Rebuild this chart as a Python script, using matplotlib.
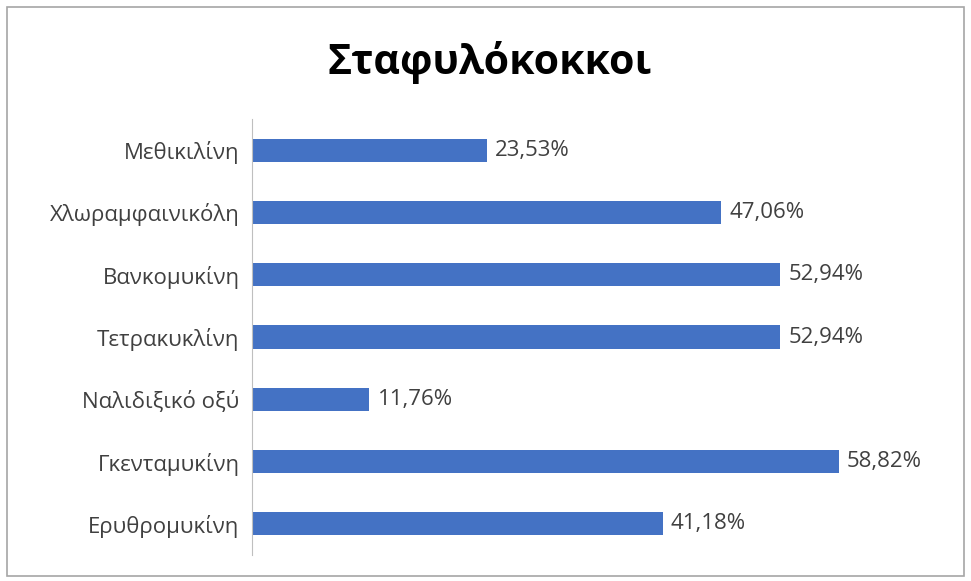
import matplotlib
matplotlib.use("Agg")
import matplotlib.pyplot as plt
from matplotlib.patches import Rectangle

categories = ["Μεθικιλίνη", "Χλωραμφαινικόλη", "Βανκομυκίνη", "Τετρακυκλίνη",
              "Ναλιδιξικό οξύ", "Γκενταμυκίνη", "Ερυθρομυκίνη"]
values = [23.53, 47.06, 52.94, 52.94, 11.76, 58.82, 41.18]
title = "Σταφυλόκοκκοι"

plt.rcParams["font.family"] = ["Open Sans", "DejaVu Sans"]

fig = plt.figure(figsize=(9.71, 5.81), dpi=100)
fig.patches.append(Rectangle((7 / 971, 5 / 581), 957 / 971, 569 / 581,
                             transform=fig.transFigure, fill=False,
                             edgecolor="#a6a6a6", linewidth=1.2))

ax = fig.add_axes([252 / 971, 26 / 581, 698 / 971, 436 / 581])
ypos = list(range(len(categories)))
ax.barh(ypos, values, height=0.37, color="#4472c4")
ax.set_ylim(len(categories) - 0.5, -0.5)
ax.set_xlim(0, 70)
ax.set_yticks(ypos)
ax.set_yticklabels(categories, fontsize=16, color="#404040")
ax.tick_params(axis="y", length=0, pad=9)
ax.set_xticks([])
for s in ["top", "right", "bottom"]:
    ax.spines[s].set_visible(False)
ax.spines["left"].set_color("#bfbfbf")

for y, v in zip(ypos, values):
    ax.annotate(f"{v:.2f}%".replace(".", ","), (v, y), xytext=(6, 0),
                textcoords="offset points", va="center", ha="left",
                fontsize=16, color="#404040")

fig.text(490 / 971, 1 - 62 / 581, title, ha="center", va="center",
         fontsize=29.5, fontweight="bold", color="black")

fig.savefig("out.png")
